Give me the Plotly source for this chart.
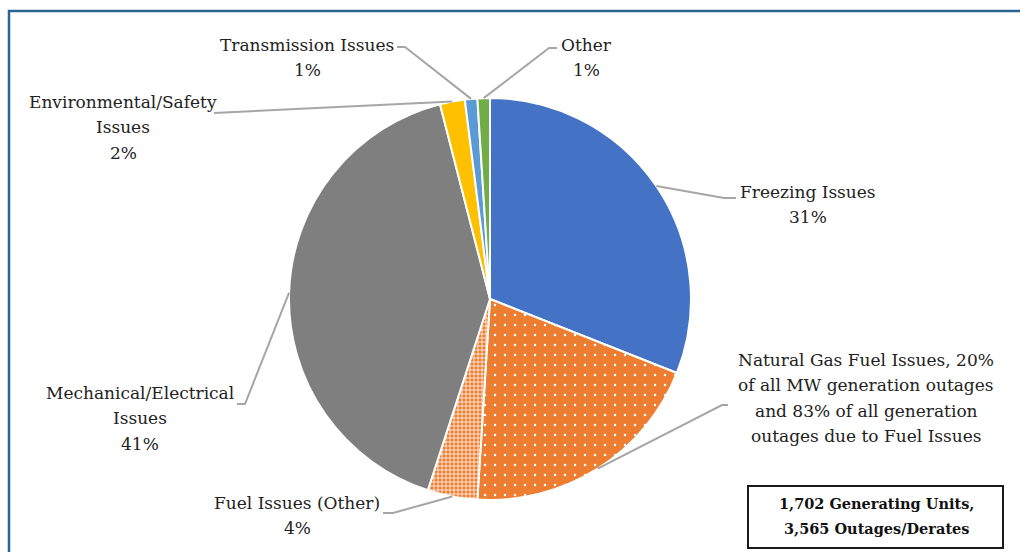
import math
import plotly.graph_objects as go

# Outage causes, clockwise from 12 o'clock
causes = [
    "Freezing Issues",
    "Natural Gas Fuel Issues",
    "Fuel Issues (Other)",
    "Mechanical/Electrical Issues",
    "Environmental/Safety Issues",
    "Transmission Issues",
    "Other",
]
shares = [31, 20, 4, 41, 2, 1, 1]
colors = ["#4472C4", "#ED7D31", "#ED7D31", "#7F7F7F", "#FFC000", "#5B9BD5", "#70AD47"]
pattern_shapes = ["", ".", "+", "", "", "", ""]
pattern_sizes = [8, 10, 4, 8, 8, 8, 8]
pattern_solidity = [0.2, 0.05, 0.35, 0.2, 0.2, 0.2, 0.2]

# label lines per slice
label_lines = [
    ["Freezing Issues", "31%"],
    ["Natural Gas Fuel Issues, 20%", "of all MW generation outages",
     "and 83% of all generation", "outages due to Fuel Issues"],
    ["Fuel Issues (Other)", "4%"],
    ["Mechanical/Electrical", "Issues", "41%"],
    ["Environmental/Safety", "Issues", "2%"],
    ["Transmission Issues", "1%"],
    ["Other", "1%"],
]
# label block centre x and first-line y (px), and leader elbow paths (px)
label_pos = [(808, 192), (866, 360), (297, 503), (140, 393), (123, 102), (307, 45), (586, 45)]
LINE_STEP = 25.3
leader_paths = [
    [(736, 198), (724, 198)],
    [(728, 405), (722, 405)],
    [(383, 513), (393, 513)],
    [(237, 404), (245, 404)],
    [(214, 113)],
    [(397, 47), (405, 47)],
    [(557, 48), (549, 48)],
]

summary_lines = ["1,702 Generating Units,", "3,565 Outages/Derates"]

W, H = 1020, 552
CX, CY, R = 490, 299, 201


def px(x, y):
    return x / W, 1 - y / H


FONT = "DejaVu Serif"

fig = go.Figure()
fig.add_trace(go.Pie(
    labels=causes,
    values=shares,
    sort=False,
    direction="clockwise",
    rotation=0,
    textinfo="none",
    hoverinfo="label+percent",
    showlegend=False,
    domain=dict(x=[(CX - R) / W, (CX + R) / W], y=[1 - (CY + R) / H, 1 - (CY - R) / H]),
    marker=dict(
        colors=colors,
        line=dict(color="white", width=2),
        pattern=dict(
            shape=pattern_shapes,
            fgcolor="white",
            bgcolor=colors,
            size=pattern_sizes,
            solidity=pattern_solidity,
            fillmode="replace",
        ),
    ),
))

shapes = []
annotations = []


def add_line_text(x, y, text, size, bold=False, color="#222222"):
    ax, ay = px(x, y)
    annotations.append(dict(x=ax, y=ay, xref="paper", yref="paper",
                            text="<b>%s</b>" % text if bold else text,
                            showarrow=False, xanchor="center", yanchor="middle",
                            font=dict(family=FONT, size=size, color=color)))


total = sum(shares)
cum = 0
for i, v in enumerate(shares):
    mid = (cum + v / 2) / total * 2 * math.pi
    cum += v
    ex, ey = CX + R * math.sin(mid), CY - R * math.cos(mid)
    pts = leader_paths[i] + [(ex, ey)]
    path = "M " + " L ".join("{:.5f},{:.5f}".format(*px(x, y)) for x, y in pts)
    shapes.append(dict(type="path", xref="paper", yref="paper", path=path,
                       line=dict(color="#A6A6A6", width=2)))
    lx, ly = label_pos[i]
    for k, line in enumerate(label_lines[i]):
        add_line_text(lx, ly + k * LINE_STEP, line, 17)

# summary box
bx0, by0 = px(748, 486)
bx1, by1 = px(1003, 548)
shapes.append(dict(type="rect", xref="paper", yref="paper", x0=bx0, y0=by0, x1=bx1, y1=by1,
                   line=dict(color="#1a1a1a", width=2), fillcolor="white"))
for k, line in enumerate(summary_lines):
    add_line_text(876, 504 + k * 24, line, 14.5, bold=True, color="#111111")

# outer frame (top and left edges)
fx, fy = px(9, 11)
shapes.append(dict(type="path", xref="paper", yref="paper",
                   path="M {:.5f},0 L {:.5f},{:.5f} L 1.01,{:.5f}".format(fx, fx, fy, fy),
                   line=dict(color="#2B6591", width=2.5)))

fig.update_layout(
    width=W, height=H,
    margin=dict(l=0, r=0, t=0, b=0),
    paper_bgcolor="white",
    plot_bgcolor="white",
    font=dict(family=FONT),
    shapes=shapes,
    annotations=annotations,
)

fig.write_html("out.html")
